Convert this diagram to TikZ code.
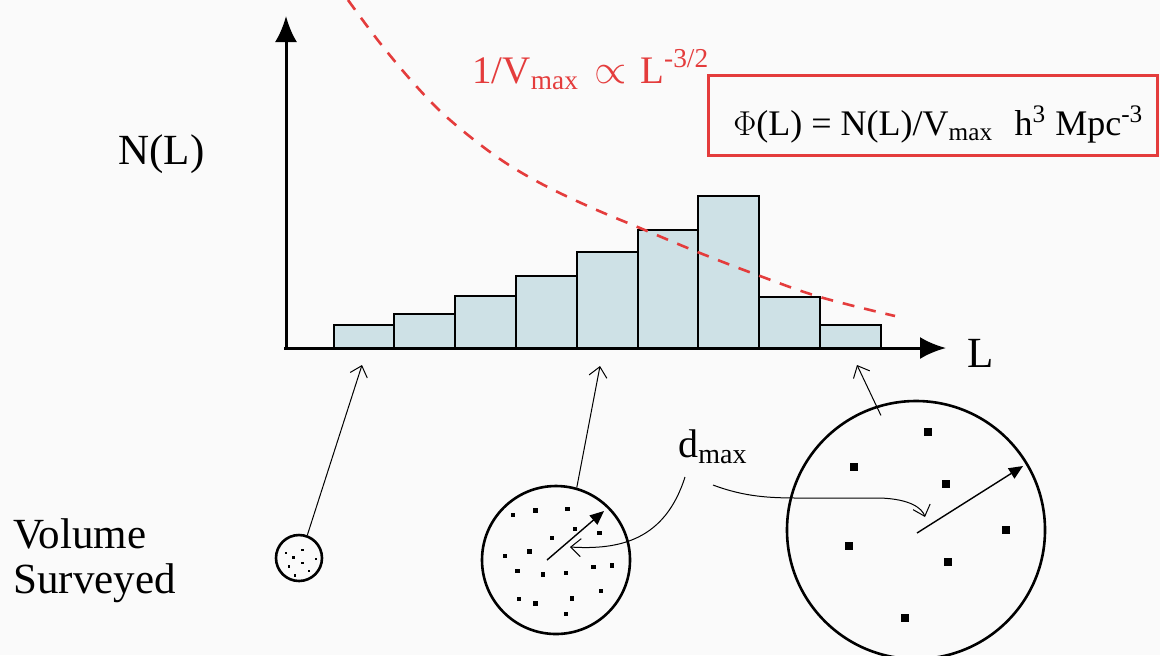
\documentclass[tikz,border=0pt]{standalone}
\usepackage{fontspec}
\setmainfont{Liberation Serif}
\usetikzlibrary{arrows.meta}
\definecolor{bgc}{RGB}{250,250,250}
\definecolor{barfill}{RGB}{206,225,230}
\definecolor{myred}{RGB}{228,60,60}
\begin{document}
\begin{tikzpicture}[x=0.5pt,y=-0.5pt,
  axisline/.style={line width=1.5pt,-{Latex[length=13pt,width=11pt]}},
  barbox/.style={draw=black,line width=1.2pt,fill=barfill},
  pointer/.style={line width=0.5pt,-{Straight Barb[length=5pt,width=9pt]}},
  radius/.style={line width=0.7pt,-{Triangle[length=7pt,width=6pt]}},
  vol/.style={circle,draw,line width=1.3pt,inner sep=0pt},
  txt/.style={inner sep=0pt,anchor=base west,font=\fontsize{21.5}{25}\selectfont},
  redtxt/.style={inner sep=0pt,anchor=base west,text=myred,font=\fontsize{19.5}{23}\selectfont},
  formula/.style={inner sep=0pt,anchor=base west,font=\fontsize{18}{22}\selectfont},
  curve/.style={myred,line width=1.3pt,dash pattern=on 6pt off 5pt},
  dot/.style={fill=black}
]
\useasboundingbox[fill=bgc] (0,0) rectangle (1160,655);

% bars
\foreach \xa/\xb/\yt in {334/394/325,394/455/314,455/516/296,516/577/276,577/638/252,638/698/230,698/759/196,759/820/297,820/881/325}
  \draw[barbox] (\xa,348) rectangle (\xb,\yt);

% axes
\coordinate (O) at (284,348);
\coordinate (ytop) at (286,16);
\coordinate (xend) at (946,348);
\draw[axisline] (286,349) -- (ytop);
\draw[axisline] (O) -- (xend);

% red dashed curve
\draw[curve] plot[smooth,tension=0.6] coordinates {(348,0) (380,43) (417,87) (450,120) (497,157) (540,183) (590,207) (640,228) (700,253) (760,276) (820,297) (895,316)};

% labels
\node[txt] (NL) at (118,164) {N(L)};
\node[txt] (Lx) at (967,367) {L};
\node[txt] (vol1) at (13,548) {Volume};
\node[txt] (vol2) at (13,593) {Surveyed};
\node[redtxt] (vlaw) at (472,83) {1/V\textsubscript{max}\hspace{0.15em} $\propto$\hspace{0.1em} L\textsuperscript{-3/2}};
\node[formula] (phi) at (733,135) {$\Phi$(L) = N(L)/V\textsubscript{max}\hspace{0.6em}h\textsuperscript{3} Mpc\textsuperscript{-3}};
\draw[myred,line width=1.5pt] (708,75) rectangle (1157,155);
\node[txt,font=\fontsize{20}{22}\selectfont] (dmax) at (678,457) {d\textsubscript{max}};

% volume circles
\node[vol,minimum size=23pt] (sc) at (299,558) {};
\node[vol,minimum size=74pt] (mc) at (556,560) {};
\node[vol,minimum size=129pt] (lc) at (916,530) {};

% dots
\foreach \p in {(285.7,552.7),(302.3,550),(293.3,557.3),(302.3,563),(316,559),(289,566.3),(308.7,570.7),(295,575.3)}
  \fill[dot] \p ++(-1.2,-1.2) rectangle ++(2.4,2.4);
\foreach \p in {(512.7,514.7),(535.3,510.3),(567.3,509),(575,529),(599.3,533),(552,538),(529.3,551.3),(504.7,556),(517.3,571),(542.7,574.3),(566,572.7),(593.3,566.7),(612,565.3),(600.7,591),(518.7,598.7),(535.3,603.3),(572,598.3),(566,614)}
  \fill[dot] \p ++(-2.2,-2.2) rectangle ++(4.4,4.4);
\foreach \p in {(928,432.3),(853.7,467.3),(946,484),(1005.7,529.7),(849,546),(947.7,561.7),(905,617.7)}
  \fill[dot] \p ++(-4,-4) rectangle ++(8,8);

% pointers to axis
\coordinate (t1) at (362,365);
\coordinate (t2) at (600,366);
\coordinate (t3) at (857,365);
\draw[pointer] (sc.70) -- (t1);
\draw[pointer] (mc.74) -- (t2);
\draw[pointer] ([shift={(3,10)}]lc.107) -- (t3);

% radius arrows
\coordinate (m0) at (547,560);
\coordinate (m1) at (604,511);
\coordinate (l0) at (917,533);
\coordinate (l1) at (1023,466);
\draw[radius] (m0) -- (m1);
\draw[radius] (l0) -- (l1);

% d_max curved pointers
\coordinate (d1) at (685,477);
\coordinate (d1e) at (570,547);
\coordinate (d2) at (713,485);
\coordinate (d2e) at (925,517);
\draw[pointer] (d1) .. controls (665,540) and (620,550) .. (d1e);
\draw[pointer] (d2) .. controls (745,497) and (770,498) .. (800,498) -- (880,498) .. controls (910,499) and (922,508) .. (d2e);
\end{tikzpicture}
\end{document}
